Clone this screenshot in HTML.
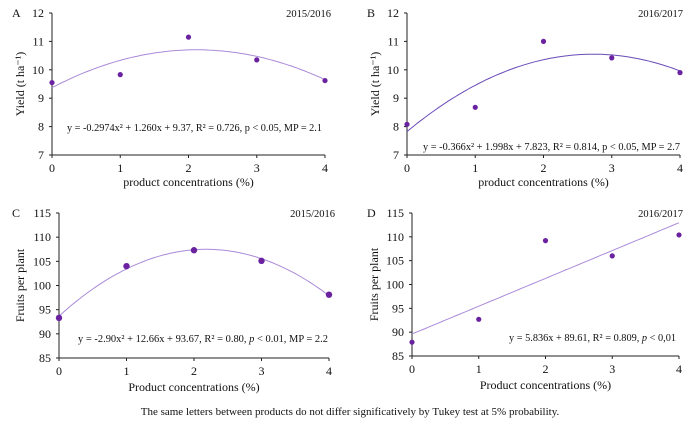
<!DOCTYPE html>
<html><head><meta charset="utf-8"><style>
body{margin:0;background:#fff}
svg text{font-family:"Liberation Serif",serif;fill:#111}
</style></head><body>
<svg id="s" width="700" height="422" viewBox="0 0 700 422">
<text x="350" y="415" font-size="11" text-anchor="middle">The same letters between products do not differ significatively by Tukey test at 5% probability.</text>
</svg>
<script>
const xCats=[0,1,2,3,4];
const yieldA=[9.55,9.83,11.15,10.35,9.62];
const yieldB=[8.08,8.68,11.0,10.42,9.9];
const fruitsC=[93.3,104.0,107.3,105.1,98.1];
const fruitsD=[87.9,92.7,109.2,106.0,110.4];
const fitA=[-0.2974,1.260,9.37];
const fitB=[-0.366,1.998,7.823];
const fitC=[-2.90,12.66,93.67];
const fitD=[0,5.836,89.61];
const yieldTicks=[7,8,9,10,11,12];
const fruitTicks=[85,90,95,100,105,110,115];
const NS="http://www.w3.org/2000/svg";
const svg=document.getElementById('s');
function el(t,a,p){const e=document.createElementNS(NS,t);for(const k in a)e.setAttribute(k,a[k]);(p||svg).appendChild(e);return e;}
const panels=[
 {id:'a',L:'A',year:'2015/2016',x0:52,x1:325,yT:13,yB:155,min:7,max:12,ticks:yieldTicks,data:yieldA,fit:fitA,lc:'#a98ad8',ylab:'Yield (t ha⁻¹)',xlab:'product concentrations (%)',eq:'y = -0.2974x² + 1.260x + 9.37, R² = 0.726, p < 0.05, MP = 2.1',ex:67,ey:131,ew:255,yrx:331,ttlY:186,ylx:24,r:2.6},
 {id:'b',L:'B',year:'2016/2017',x0:407,x1:680,yT:13,yB:155,min:7,max:12,ticks:yieldTicks,data:yieldB,fit:fitB,lc:'#6a4bb8',ylab:'Yield (t ha⁻¹)',xlab:'product concentrations (%)',eq:'y = -0.366x² + 1.998x + 7.823, R² = 0.814, p < 0.05, MP = 2.7',ex:423,ey:150,ew:257,yrx:683,ttlY:186,ylx:379,r:2.6},
 {id:'c',L:'C',year:'2015/2016',x0:59,x1:329,yT:213,yB:358,min:85,max:115,ticks:fruitTicks,data:fruitsC,fit:fitC,lc:'#a98ad8',ylab:'Fruits per plant',xlab:'Product concentrations (%)',eq:'y = -2.90x² + 12.66x + 93.67, R² = 0.80, <i>p</i> < 0.01, MP = 2.2',ex:78,ey:342,ew:250,yrx:335,ttlY:391,ylx:24,r:3.2},
 {id:'d',L:'D',year:'2016/2017',x0:412,x1:679,yT:213,yB:356,min:85,max:115,ticks:fruitTicks,data:fruitsD,fit:fitD,lc:'#a98ad8',ylab:'Fruits per plant',xlab:'Product concentrations (%)',eq:'y = 5.836x + 89.61, R² = 0.809, <i>p</i> < 0,01',ex:509,ey:341,ew:167,yrx:683,ttlY:389,ylx:378,r:2.6}
];
panels.forEach(p=>{
 const g=el('g',{});
 
 
 const sx=v=>p.x0+(v-xCats[0])/(xCats[xCats.length-1]-xCats[0])*(p.x1-p.x0);
 const sy=v=>p.yB-(v-p.min)/(p.max-p.min)*(p.yB-p.yT);
 const ax=el('path',{d:`M${p.x0},${p.yT}V${p.yB}H${p.x1}`,stroke:'#222',fill:'none','stroke-width':1},g);
 
 
 p.ticks.forEach(t=>{
  el('line',{x1:p.x0-3,x2:p.x0,y1:sy(t),y2:sy(t),stroke:'#222'},g);
  const tx=el('text',{x:p.x0-8,y:sy(t)+4,'font-size':12,'text-anchor':'end'},g);tx.textContent=t;
  
  
 });
 xCats.forEach(c=>{
  el('line',{x1:sx(c),x2:sx(c),y1:p.yB,y2:p.yB+3,stroke:'#222'},g);
  const tx=el('text',{x:sx(c),y:p.yB+17,'font-size':12,'text-anchor':'middle'},g);tx.textContent=c;
  
  
 });
 let d='';for(let i=0;i<=80;i++){const x=4*i/80;const y=p.fit[0]*x*x+p.fit[1]*x+p.fit[2];d+=(i?'L':'M')+sx(x).toFixed(1)+','+sy(y).toFixed(1);}
 const ln=el('path',{d:d,stroke:p.lc,fill:'none','stroke-width':1},g);
 
 
 p.data.forEach((v,i)=>{
  const c=el('circle',{cx:sx(xCats[i]),cy:sy(v),r:p.r,fill:'#6a22a0'},g);
  
  
 });
 const L=el('text',{x:12,y:p.yT+4,'font-size':12},g);L.textContent=p.L;L.setAttribute('x',p.id==='a'||p.id==='c'?12:367);
 
 
 const yr=el('text',{x:p.yrx,y:p.yT+4,'font-size':10.5,'text-anchor':'end'},g);yr.textContent=p.year;
 
 
 const xt=el('text',{x:(p.x0+p.x1)/2,y:p.ttlY,'font-size':12,'text-anchor':'middle'},g);xt.textContent=p.xlab;
 
 
 const yt=el('text',{x:0,y:0,'font-size':12,'text-anchor':'middle',transform:`translate(${p.ylx},${(p.yT+p.yB)/2}) rotate(-90)`},g);yt.textContent=p.ylab;
 
 
 const eq=el('text',{x:p.ex,y:p.ey,'font-size':10.5,textLength:p.ew,lengthAdjust:'spacingAndGlyphs'},g);eq.innerHTML=p.eq.replace(/<i>/g,'<tspan font-style="italic">').replace(/<\/i>/g,'</tspan>');
 
 
});
</script>
</body></html>
